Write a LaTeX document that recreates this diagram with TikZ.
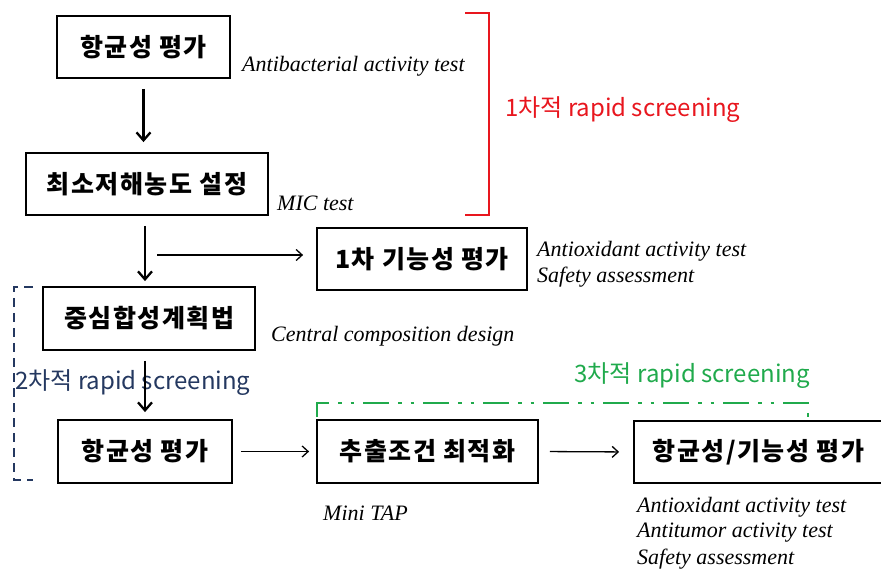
\documentclass[tikz,border=0pt]{standalone}
\usepackage{fontspec}
\setmainfont{Liberation Serif}
\newfontfamily\kr{Noto Sans CJK KR}
\newfontfamily\krbox[LetterSpace=6]{Noto Sans CJK KR}
\usetikzlibrary{arrows.meta}
\definecolor{redb}{RGB}{232,22,30}
\definecolor{greenb}{RGB}{32,170,76}
\definecolor{navyb}{RGB}{36,56,96}
\begin{document}
\begin{tikzpicture}[x=1pt,y=-1pt,
  box/.style={draw,line width=1.8pt,minimum height=62pt,inner sep=0pt,
    font=\krbox\bfseries\fontsize{25}{25}\selectfont},
  note/.style={anchor=west,inner sep=0pt,font=\itshape\fontsize{22}{22}\selectfont},
  scr/.style={inner sep=0pt,font=\kr\fontsize{24}{24}\selectfont},
  varrow/.style={line width=2.3pt,-{Straight Barb[length=8pt,width=14pt,line width=2.3pt]}},
  harrow/.style={line width=1.3pt,-{Straight Barb[length=6pt,width=11pt,line width=1.3pt]}},
  redbr/.style={draw=redb,line width=2.5pt},
  navybr/.style={draw=navyb,line width=2.2pt,dash pattern=on 9pt off 6pt},
  greenbr/.style={draw=greenb,line width=2.6pt,
    dash pattern=on 26pt off 9pt on 3.5pt off 9pt on 3.5pt off 9pt}
]
\useasboundingbox (0,0) rectangle (881,569);

% boxes
\node[box,minimum width=173pt] (b1) at (143.5,47) {항균성 평가};
\node[box,minimum width=242pt] (b2) at (147,184) {최소저해농도 설정};
\node[box,minimum width=210pt] (b3) at (422,259) {1차 기능성 평가};
\node[box,minimum width=212pt,minimum height=63pt] (b4) at (149,318.5) {중심합성계획법};
\node[box,minimum width=174pt,minimum height=63pt] (b5) at (145,451.5) {항균성 평가};
\node[box,minimum width=221pt,minimum height=63pt] (b6) at (427.5,451.5) {추출조건 최적화};
\node[box,minimum width=249pt,minimum height=62pt] (b7) at (758.5,452) {항균성/기능성 평가};

% notes
\node[note] (n1) at (242,66) {Antibacterial activity test};
\node[note] (n2) at (277,203) {MIC test};
\node[note] (n3) at (537,251) {Antioxidant activity test};
\node[note] (n4) at (537,277) {Safety assessment};
\node[note] (n5) at (271,336) {Central composition design};
\node[note] (n6) at (323,513) {Mini TAP};
\node[note] (n7) at (637,507) {Antioxidant activity test};
\node[note] (n8) at (637,533) {Antitumor activity test};
\node[note] (n9) at (637,559) {Safety assessment};

% screening labels
\node[scr,anchor=west,text=redb] (s1) at (505,110) {1차적 rapid screening};
\node[scr,anchor=west,text=navyb] (s2) at (15,383) {2차적 rapid screening};
\node[scr,anchor=east,text=greenb] (s3) at (810,376) {3차적 rapid screening};

% arrows
\draw[varrow,shorten <=10pt,shorten >=10pt] (b1.south) -- (b1.south |- b2.north);
\draw[varrow,shorten <=10pt,shorten >=5pt] (b5.north |- b2.south) -- (b5.north |- b4.north);
\coordinate (hs) at (157,255);
\draw[harrow,shorten >=13pt] (hs) -- (hs -| b3.west);
\draw[varrow,shorten <=10pt,shorten >=7pt] (b5.north |- b4.south) -- (b5.north);
\draw[harrow,shorten <=8pt,shorten >=7pt] (b5.east) -- (b6.west);
\draw[harrow,shorten <=11pt,shorten >=14pt] (b6.east) -- (b7.west);

% brackets
\draw[redbr] (465,13) -- (489,13) -- (489,215) -- (465,215);
\draw[navybr] (33,287) -- (14,287) -- (14,480) -- (33,480);
\draw[greenbr] (317,417) -- (317,403) -- (808,403) -- (808,417);
\end{tikzpicture}
\end{document}
